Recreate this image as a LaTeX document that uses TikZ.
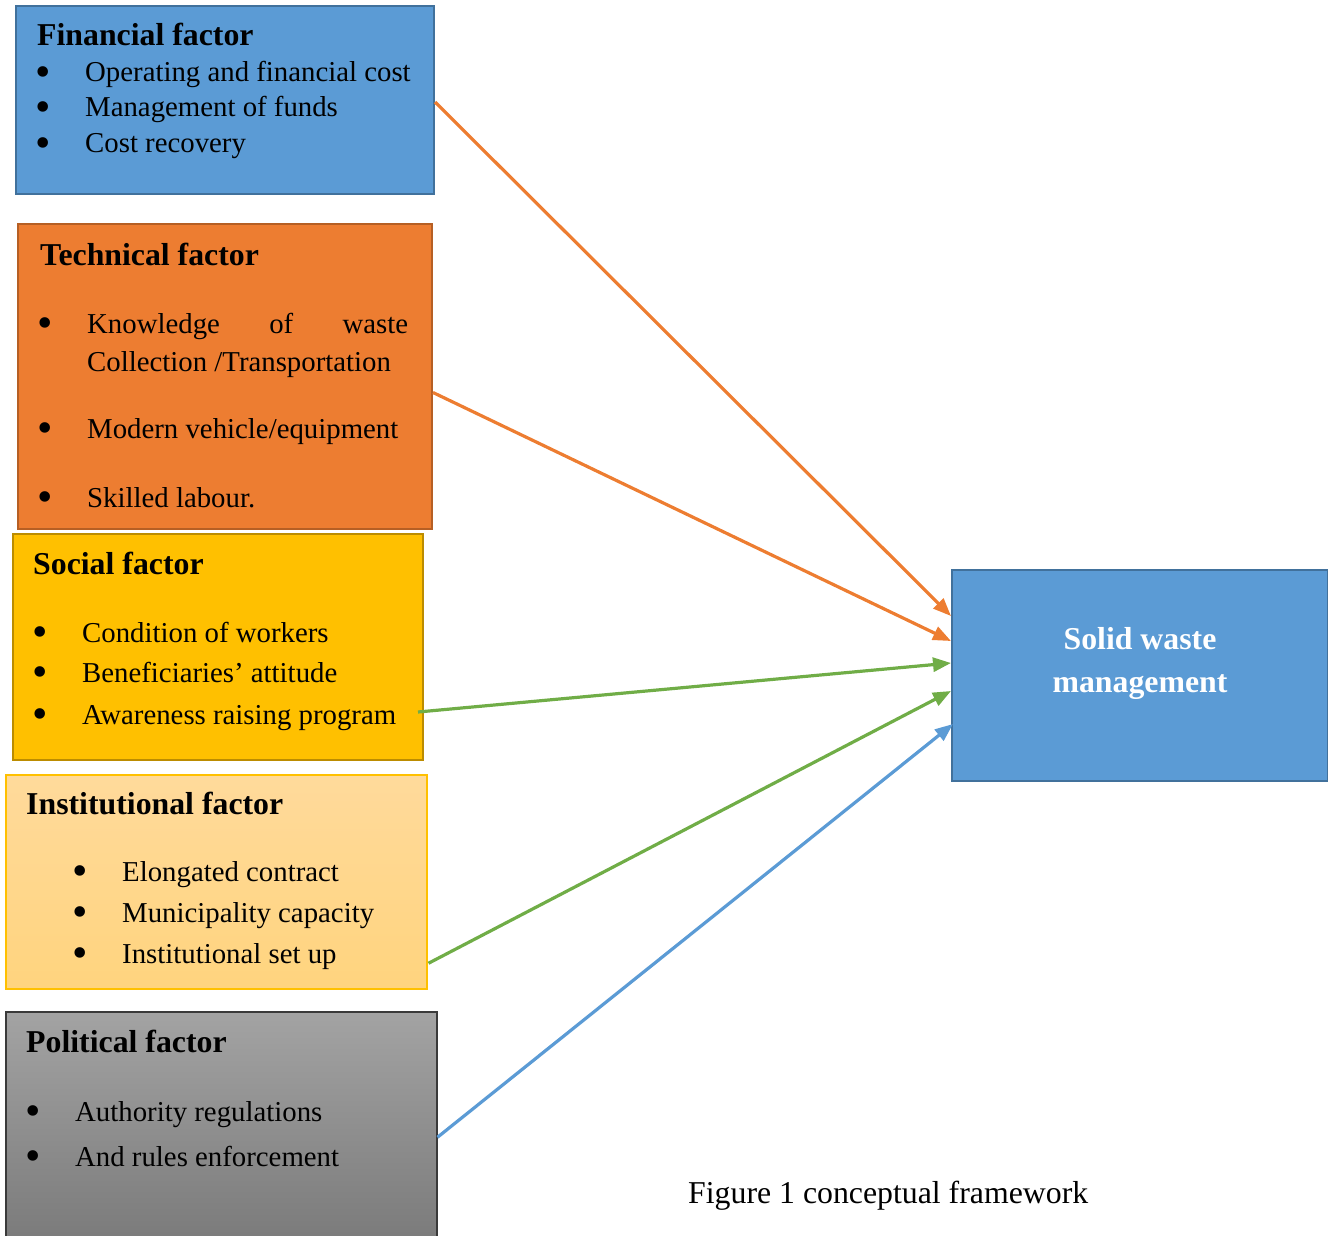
\documentclass[tikz,border=0pt]{standalone}
\usepackage{fontspec}
\setmainfont{Liberation Serif}
\usetikzlibrary{arrows.meta}
\definecolor{fblue}{HTML}{5B9BD5}
\definecolor{fbluedk}{HTML}{41719C}
\definecolor{forange}{HTML}{ED7D31}
\definecolor{forangedk}{HTML}{B65F24}
\definecolor{fgold}{HTML}{FFC000}
\definecolor{fgolddk}{HTML}{BC8C00}
\definecolor{finsttop}{HTML}{FFDA9B}
\definecolor{finstbot}{HTML}{FFD47E}
\definecolor{fgreen}{HTML}{70AD47}
\definecolor{pgraytop}{HTML}{A3A3A3}
\definecolor{pgraybot}{HTML}{7A7A7A}
\definecolor{pgraydk}{HTML}{3A3A3A}
\newcommand\bulmark[1]{\makebox[#1][l]{\smash{\raisebox{-4.5pt}{\fontsize{44}{44}\selectfont •}}}}
\begin{document}
\begin{tikzpicture}[x=1pt,y=-1pt,
  box/.style={line width=2pt, anchor=north west, inner sep=0pt, rectangle},
  head/.style={anchor=base west, inner sep=0pt, font=\fontsize{31.8}{38}\selectfont\bfseries},
  item/.style={anchor=base west, inner sep=0pt, font=\fontsize{28.8}{36}\selectfont},
  link/.style={line width=3.2pt, -{Triangle[length=18pt,width=14pt]}}]
\useasboundingbox (0,0) rectangle (1328,1236);
% boxes
\node[box, fill=fblue, draw=fbluedk, minimum width=418pt, minimum height=188pt] (fin) at (15,5) {};
\node[box, fill=forange, draw=forangedk, minimum width=414pt, minimum height=305pt] (tec) at (17,223) {};
\node[box, fill=fgold, draw=fgolddk, minimum width=410pt, minimum height=226pt] (soc) at (12,533) {};
\node[box, top color=finsttop, bottom color=finstbot, draw=fgold, line width=1.5pt, minimum width=421pt, minimum height=214pt] (ins) at (5,774) {};
\node[box, top color=pgraytop, bottom color=pgraybot, draw=pgraydk, line width=1.5pt, minimum width=431pt, minimum height=234pt] (pol) at (5,1011) {};
\node[box, fill=fblue, draw=fbluedk, minimum width=376pt, minimum height=211pt] (swm) at (951,569) {};
% financial
\node[head] (finh) at (37,46) {Financial factor};
\node[item] (fin1) at (35,82) {\bulmark{50pt}Operating and financial cost};
\node[item] (fin2) at (35,117) {\bulmark{50pt}Management of funds};
\node[item] (fin3) at (35,153) {\bulmark{50pt}Cost recovery};
% technical
\node[head] (tech) at (40,265) {Technical factor};
\node[item] (tec1) at (37,333) {\bulmark{50pt}\hbox to 321pt{Knowledge\hfill of\hfill waste}};
\node[item] (tec1b) at (87,371) {Collection /Transportation};
\node[item] (tec2) at (37,438) {\bulmark{50pt}Modern vehicle/equipment};
\node[item] (tec3) at (37,507) {\bulmark{50pt}Skilled labour.};
% social
\node[head] (soch) at (33,574) {Social factor};
\node[item] (soc1) at (32,642) {\bulmark{50pt}Condition of workers};
\node[item] (soc2) at (32,682) {\bulmark{50pt}Beneficiaries’ attitude};
\node[item] (soc3) at (32,724) {\bulmark{50pt}Awareness raising program};
% institutional
\node[head] (insh) at (26,814) {Institutional factor};
\node[item] (ins1) at (72,881) {\bulmark{50pt}Elongated contract};
\node[item] (ins2) at (72,922) {\bulmark{50pt}Municipality capacity};
\node[item] (ins3) at (72,963) {\bulmark{50pt}Institutional set up};
% political
\node[head] (polh) at (26,1052) {Political factor};
\node[item] (pol1) at (25,1121) {\bulmark{50pt}Authority regulations};
\node[item] (pol2) at (25,1166) {\bulmark{50pt}And rules enforcement};
% solid waste management
\node[anchor=base, inner sep=0pt, text=white, font=\fontsize{31.8}{38}\selectfont\bfseries] (swm1) at (1140,649) {Solid waste};
\node[anchor=base, inner sep=0pt, text=white, font=\fontsize{31.8}{38}\selectfont\bfseries] (swm2) at (1140,692) {management};
% caption
\node[anchor=base west, inner sep=0pt, font=\fontsize{31.8}{38}\selectfont] (cap) at (688,1203) {Figure 1 conceptual framework};
% connectors
\draw[link, forange] ([yshift=-2pt]fin.east) -- ([yshift=59.5pt]swm.west);
\draw[link, forange] ([yshift=-16pt]tec.east) -- ([yshift=34.5pt]swm.west);
\draw[link, fgreen] ([yshift=-65pt,xshift=-6pt]soc.east) -- ([yshift=12.5pt]swm.west);
\draw[link, fgreen] ([yshift=-81.5pt,xshift=1pt]ins.east) -- ([yshift=-15.5pt]swm.west);
\draw[link, fblue] ([yshift=-8.5pt]pol.east) -- ([yshift=-48.5pt,xshift=2pt]swm.west);
\end{tikzpicture}
\end{document}
